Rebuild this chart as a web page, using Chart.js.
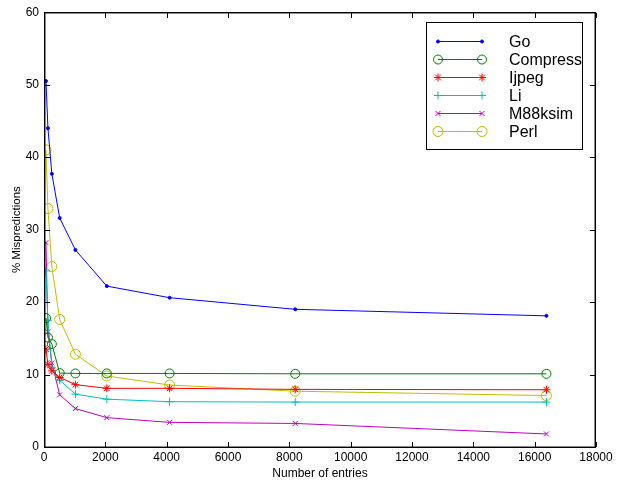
<!DOCTYPE html>
<html>
<head>
<meta charset="utf-8">
<script src="https://cdn.jsdelivr.net/npm/chart.js@4/dist/chart.umd.min.js"></script>
<style>
  html, body { margin: 0; padding: 0; background: #ffffff; }
  #wrap { width: 619px; height: 481px; }
</style>
</head>
<body>
<div id="wrap"><canvas id="mispredict-chart"></canvas></div>
<script>
/*global Chart*/

const entries = [64, 128, 256, 512, 1024, 2048, 4096, 8192, 16384];

const goData = [50.5, 44.0, 37.7, 31.6, 27.2, 22.2, 20.6, 19.0, 18.1];
const compressData = [17.8, 15.1, 14.2, 10.2, 10.15, 10.15, 10.15, 10.1, 10.1];
const ijpegData = [13.5, 11.4, 10.5, 9.6, 8.6, 8.1, 8.1, 7.95, 7.9];
const liData = [24.3, 17.5, 11.0, 9.2, 7.3, 6.6, 6.25, 6.2, 6.2];
const m88ksimData = [28.2, 15.9, 11.6, 7.2, 5.3, 4.05, 3.4, 3.25, 1.8];
const perlData = [41.0, 32.9, 24.9, 17.6, 12.8, 9.8, 8.55, 7.7, 7.1];

const xTicks = [0, 2000, 4000, 6000, 8000, 10000, 12000, 14000, 16000, 18000];
const yTicks = [0, 10, 20, 30, 40, 50, 60];

const fontFamily = "'Liberation Sans', Arial, sans-serif";

function series(label, values, color, pointStyle, radius, hollow) {
  const fill = hollow ? "rgba(0,0,0,0)" : color;
  return {
    label: label,
    data: values.map((v, i) => ({ x: entries[i], y: v })),
    borderColor: color,
    backgroundColor: fill,
    pointBorderColor: color,
    pointBackgroundColor: fill,
    pointStyle: pointStyle,
    pointRadius: radius,
    pointBorderWidth: 1,
    borderWidth: 1,
    tension: 0,
  };
}

// Box round the plot, ticks pointing inward on all four sides, and the legend.
const framePlugin = {
  id: "frame",
  afterDraw(chart) {
    const { ctx, chartArea: a, scales } = chart;
    const len = 5;
    const L = Math.round(a.left);
    const R = Math.round(a.right) - 1;
    const T = Math.round(a.top);
    const B = Math.round(a.bottom);
    ctx.save();
    // soft inner edge makes the frame read about 1.5px wide, like the scan
    ctx.fillStyle = "rgba(0,0,0,0.45)";
    ctx.fillRect(L, T + 1, R - L + 1, 1);
    ctx.fillRect(L, B - 1, R - L + 1, 1);
    ctx.fillRect(L + 1, T, 1, B - T + 1);
    ctx.fillRect(R - 1, T, 1, B - T + 1);
    ctx.fillStyle = "#000000";
    ctx.fillRect(L, T, R - L + 1, 1);
    ctx.fillRect(L, B, R - L + 1, 1);
    ctx.fillRect(L, T, 1, B - T + 1);
    ctx.fillRect(R, T, 1, B - T + 1);
    for (const t of xTicks) {
      const px = Math.round(scales.x.getPixelForValue(t));
      ctx.fillRect(px, B - len, 1, len);
      ctx.fillRect(px, T + 1, 1, len);
    }
    for (const t of yTicks) {
      const py = Math.round(scales.y.getPixelForValue(t));
      ctx.fillRect(L + 1, py, len, 1);
      ctx.fillRect(R - len, py, len, 1);
    }

    // legend
    const bx = 426, by = 22, bw = 156, bh = 127;
    ctx.fillStyle = "#ffffff";
    ctx.fillRect(bx, by, bw, bh);
    ctx.fillStyle = "#000000";
    ctx.fillRect(bx, by, bw + 1, 1);
    ctx.fillRect(bx, by + bh, bw + 1, 1);
    ctx.fillRect(bx, by, 1, bh + 1);
    ctx.fillRect(bx + bw, by, 1, bh + 1);
    ctx.font = "16px " + fontFamily;
    ctx.textBaseline = "middle";
    chart.data.datasets.forEach((ds, i) => {
      const y = by + 19.5 + i * 18;
      const x1 = 438, x2 = 482;
      ctx.strokeStyle = ds.borderColor;
      ctx.lineWidth = 1;
      ctx.beginPath();
      ctx.moveTo(x1, y);
      ctx.lineTo(x2, y);
      ctx.stroke();
      for (const px of [x1, x2]) {
        ctx.fillStyle = ds.pointBackgroundColor;
        ctx.strokeStyle = ds.pointBorderColor;
        ctx.lineWidth = 1;
        Chart.helpers.drawPoint(ctx, {
          pointStyle: ds.pointStyle,
          radius: ds.pointRadius,
          borderWidth: 1,
          rotation: 0,
        }, px, y);
      }
      ctx.fillStyle = "#000000";
      ctx.fillText(ds.label, 509, y + 1);
    });
    ctx.restore();
  },
};

const ctx = document.getElementById("mispredict-chart").getContext("2d");

new Chart(ctx, {
  type: "line",
  plugins: [framePlugin],
  data: {
    datasets: [
      series("Go", goData, "#0000ff", "circle", 1.5, false),
      series("Compress", compressData, "#008000", "circle", 4.5, true),
      series("Ijpeg", ijpegData, "#ff0000", "star", 4, false),
      series("Li", liData, "#00bfbf", "cross", 4, false),
      series("M88ksim", m88ksimData, "#bf00bf", "crossRot", 3.5, false),
      series("Perl", perlData, "#bfbf00", "circle", 5, true),
    ],
  },
  options: {
    responsive: true,
    maintainAspectRatio: false,
    animation: false,
    layout: {
      padding: { top: 12, right: 23, left: 0, bottom: 0 },
    },
    scales: {
      x: {
        type: "linear",
        min: 0,
        max: 18000,
        afterFit(scale) { scale.height = 34; },
        afterBuildTicks(scale) { scale.ticks = xTicks.map((v) => ({ value: v })); },
        grid: { display: false, drawTicks: false },
        border: { display: false },
        ticks: {
          padding: 3,
          color: "#000000",
          maxRotation: 0,
          callback: (v) => String(v),
          font: { family: fontFamily, size: 12 },
        },
        title: {
          display: true,
          text: "Number of entries",
          color: "#000000",
          padding: { top: 0, bottom: 0 },
          font: { family: fontFamily, size: 12 },
        },
      },
      y: {
        min: 0,
        max: 60,
        afterFit(scale) { scale.width = 44; },
        afterBuildTicks(scale) { scale.ticks = yTicks.map((v) => ({ value: v })); },
        grid: { display: false, drawTicks: false },
        border: { display: false },
        ticks: {
          padding: 5,
          color: "#000000",
          callback: (v) => String(v),
          font: { family: fontFamily, size: 12 },
        },
        title: {
          display: true,
          text: "% Mispredictions",
          color: "#000000",
          padding: { top: 10, bottom: 0 },
          font: { family: fontFamily, size: 11.5 },
        },
      },
    },
    plugins: {
      legend: { display: false },
      tooltip: { enabled: false },
    },
  },
});
</script>
</body>
</html>
